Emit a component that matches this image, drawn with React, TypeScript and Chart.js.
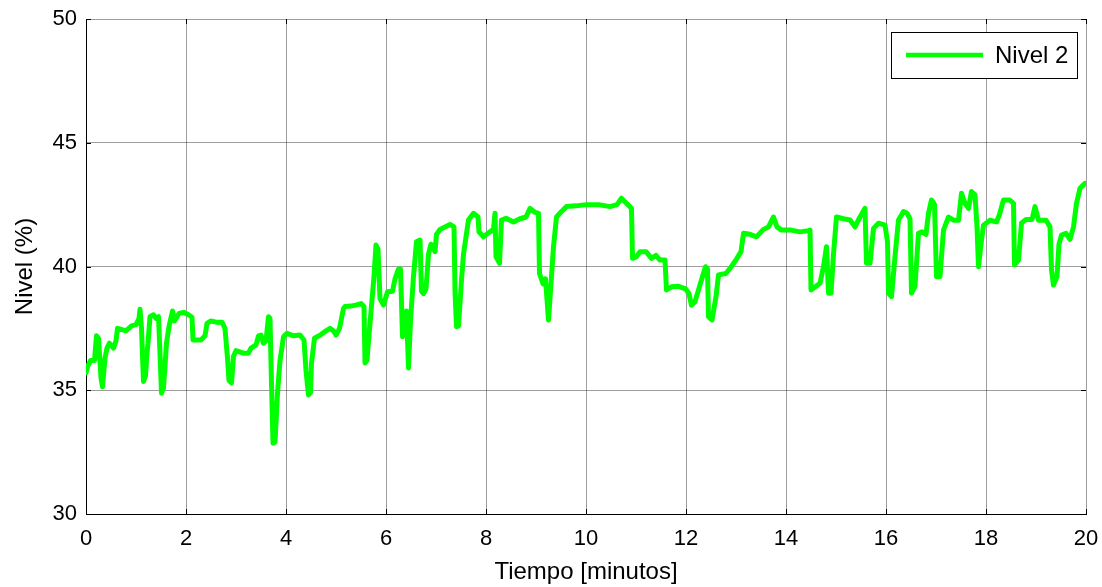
import React, { useEffect, useRef } from 'react';
import { Chart, registerables } from 'chart.js';

Chart.register(...registerables);

const seriesLabel = 'Nivel 2';
const xTitle = 'Tiempo [minutos]';
const yTitle = 'Nivel (%)';
const xTicks = [0, 2, 4, 6, 8, 10, 12, 14, 16, 18, 20];
const yTicks = [30, 35, 40, 45, 50];

const times = [
  0.00, 0.03, 0.09, 0.17, 0.21, 0.25, 0.30, 0.33, 0.38, 0.42, 0.47, 0.55, 0.60, 0.63, 0.72, 0.80, 0.91, 1.00, 1.06, 1.08,
  1.11, 1.15, 1.19, 1.22, 1.24, 1.28, 1.35, 1.40, 1.45, 1.48, 1.51, 1.55, 1.61, 1.66, 1.73, 1.77, 1.86, 1.95, 2.05, 2.12,
  2.14, 2.30, 2.38, 2.42, 2.50, 2.60, 2.72, 2.78, 2.83, 2.86, 2.91, 2.95, 3.00, 3.15, 3.25, 3.30, 3.40, 3.45, 3.50, 3.55,
  3.60, 3.65, 3.68, 3.71, 3.74, 3.78, 3.83, 3.88, 3.95, 4.02, 4.15, 4.28, 4.36, 4.40, 4.45, 4.49, 4.51, 4.57, 4.70, 4.80,
  4.88, 4.95, 5.00, 5.07, 5.15, 5.18, 5.30, 5.41, 5.50, 5.56, 5.58, 5.62, 5.65, 5.72, 5.76, 5.80, 5.84, 5.88, 5.95, 6.03,
  6.13, 6.18, 6.25, 6.29, 6.33, 6.37, 6.41, 6.45, 6.49, 6.55, 6.61, 6.68, 6.71, 6.75, 6.80, 6.85, 6.90, 6.98, 7.01, 7.08,
  7.18, 7.28, 7.36, 7.38, 7.41, 7.45, 7.51, 7.55, 7.65, 7.75, 7.84, 7.86, 7.95, 8.08, 8.15, 8.18, 8.20, 8.27, 8.31, 8.40,
  8.55, 8.68, 8.80, 8.88, 8.97, 9.05, 9.07, 9.14, 9.19, 9.25, 9.30, 9.35, 9.41, 9.50, 9.61, 9.80, 10.01, 10.25, 10.48, 10.62,
  10.71, 10.81, 10.91, 10.93, 11.01, 11.08, 11.20, 11.31, 11.40, 11.48, 11.58, 11.61, 11.71, 11.85, 11.99, 12.06, 12.11, 12.18, 12.29, 12.39,
  12.43, 12.45, 12.52, 12.60, 12.65, 12.80, 12.93, 13.02, 13.10, 13.15, 13.28, 13.41, 13.55, 13.65, 13.75, 13.82, 13.91, 14.10, 14.28, 14.45,
  14.48, 14.50, 14.60, 14.68, 14.75, 14.81, 14.85, 14.90, 14.95, 15.01, 15.15, 15.28, 15.38, 15.48, 15.58, 15.61, 15.68, 15.75, 15.85, 15.98,
  16.03, 16.05, 16.11, 16.18, 16.25, 16.35, 16.42, 16.48, 16.51, 16.58, 16.65, 16.72, 16.80, 16.85, 16.91, 16.97, 17.01, 17.08, 17.15, 17.25,
  17.35, 17.45, 17.51, 17.58, 17.65, 17.71, 17.78, 17.82, 17.85, 17.90, 17.95, 18.08, 18.21, 18.27, 18.35, 18.47, 18.55, 18.57, 18.65, 18.71,
  18.80, 18.92, 18.98, 19.05, 19.20, 19.28, 19.31, 19.35, 19.42, 19.46, 19.51, 19.60, 19.68, 19.75, 19.81, 19.88, 19.98,
];

const levels = [
  35.70, 35.95, 36.20, 36.20, 37.20, 37.10, 35.50, 35.14, 36.30, 36.70, 36.90, 36.70, 37.00, 37.50, 37.45, 37.40, 37.60, 37.65, 37.90, 38.27,
  37.50, 35.35, 35.60, 36.50, 36.90, 37.97, 38.05, 37.90, 37.97, 36.50, 34.88, 35.10, 36.90, 37.57, 38.20, 37.80, 38.10, 38.15, 38.05, 37.95,
  37.03, 37.03, 37.20, 37.70, 37.80, 37.75, 37.75, 37.50, 36.30, 35.40, 35.30, 36.36, 36.60, 36.50, 36.50, 36.70, 36.83, 37.20, 37.23, 36.90,
  37.00, 37.97, 37.90, 35.28, 32.86, 32.90, 34.88, 36.20, 37.16, 37.30, 37.20, 37.23, 37.03, 35.80, 34.81, 34.90, 36.09, 37.10, 37.25, 37.40,
  37.50, 37.40, 37.23, 37.50, 38.30, 38.38, 38.40, 38.45, 38.50, 38.38, 36.10, 36.20, 37.00, 38.65, 39.60, 40.87, 40.70, 38.70, 38.44, 38.98,
  39.00, 39.50, 39.90, 39.90, 37.16, 37.30, 38.20, 35.90, 37.80, 39.60, 41.00, 41.07, 39.00, 38.90, 39.10, 40.50, 40.90, 40.60, 41.30, 41.50,
  41.60, 41.70, 41.60, 39.00, 37.57, 37.60, 39.45, 40.50, 41.88, 42.15, 42.00, 41.40, 41.20, 41.40, 41.50, 42.15, 40.40, 40.13, 41.88, 41.95,
  41.80, 41.93, 42.00, 42.35, 42.20, 42.15, 39.72, 39.30, 39.50, 37.84, 39.30, 40.80, 42.00, 42.20, 42.42, 42.45, 42.50, 42.50, 42.42, 42.50,
  42.76, 42.55, 42.35, 40.33, 40.40, 40.60, 40.60, 40.33, 40.45, 40.26, 40.26, 39.05, 39.18, 39.20, 39.10, 38.90, 38.44, 38.58, 39.32, 39.99,
  39.90, 37.97, 37.84, 38.78, 39.66, 39.72, 40.06, 40.33, 40.60, 41.34, 41.30, 41.20, 41.50, 41.60, 42.00, 41.60, 41.47, 41.47, 41.40, 41.45,
  41.47, 39.05, 39.20, 39.32, 40.00, 40.80, 38.92, 38.92, 40.50, 42.00, 41.93, 41.88, 41.60, 42.00, 42.35, 40.13, 40.13, 41.54, 41.75, 41.67,
  41.00, 38.92, 38.78, 40.40, 41.88, 42.22, 42.15, 41.93, 38.92, 39.20, 41.34, 41.40, 41.30, 42.15, 42.69, 42.50, 39.59, 39.60, 41.47, 42.00,
  41.87, 41.87, 42.96, 42.55, 42.35, 43.03, 42.90, 41.60, 39.99, 40.90, 41.67, 41.87, 41.80, 42.10, 42.69, 42.69, 42.55, 40.06, 40.26, 41.75,
  41.90, 41.90, 42.42, 41.87, 41.87, 41.60, 39.86, 39.25, 39.60, 40.90, 41.27, 41.34, 41.10, 41.60, 42.55, 43.16, 43.36,
];

const LINE_COLOR = 'rgb(0,255,0)';
const FONT_FAMILY = '"Liberation Sans", Arial, Helvetica, sans-serif';
const TICK_SIZE = 22;
const TITLE_SIZE = 24;

export default function App() {
  const canvasRef = useRef<HTMLCanvasElement | null>(null);

  useEffect(() => {
    document.body.style.margin = '0';
    const canvas = canvasRef.current;
    if (!canvas) return;

    const inwardTicks = {
      id: 'inwardTicks',
      afterDatasetsDraw(chart: any) {
        const { ctx, chartArea, scales } = chart;
        const { left, right, top, bottom } = chartArea;
        const L = 5;
        ctx.save();
        ctx.strokeStyle = '#000';
        ctx.lineWidth = 1;
        ctx.beginPath();
        for (const v of yTicks) {
          const py = Math.round(scales.y.getPixelForValue(v)) + 0.5;
          ctx.moveTo(left, py); ctx.lineTo(left + L, py);
          ctx.moveTo(right, py); ctx.lineTo(right - L, py);
        }
        for (const v of xTicks) {
          const px = Math.round(scales.x.getPixelForValue(v)) + 0.5;
          ctx.moveTo(px, bottom); ctx.lineTo(px, bottom - L);
          ctx.moveTo(px, top); ctx.lineTo(px, top + L);
        }
        ctx.stroke();
        ctx.restore();
      },
    };

    const legendBox = {
      id: 'legendBox',
      afterDraw(chart: any) {
        const { ctx, chartArea } = chart;
        const x0 = chartArea.right - 195;
        const x1 = chartArea.right - 9;
        const y0 = chartArea.top + 13;
        const y1 = chartArea.top + 59;
        ctx.save();
        ctx.fillStyle = '#fff';
        ctx.fillRect(x0, y0, x1 - x0, y1 - y0);
        ctx.strokeStyle = '#000';
        ctx.lineWidth = 1;
        ctx.strokeRect(Math.round(x0) + 0.5, Math.round(y0) + 0.5, x1 - x0, y1 - y0);
        const ym = (y0 + y1) / 2;
        ctx.strokeStyle = LINE_COLOR;
        ctx.lineWidth = 4.5;
        ctx.beginPath();
        ctx.moveTo(x0 + 15, ym);
        ctx.lineTo(x0 + 92, ym);
        ctx.stroke();
        ctx.fillStyle = '#000';
        ctx.font = `${TITLE_SIZE}px ${FONT_FAMILY}`;
        ctx.textBaseline = 'middle';
        ctx.textAlign = 'left';
        ctx.fillText(seriesLabel, x0 + 104, ym + 1);
        ctx.restore();
      },
    };

    const gridColor = 'rgba(0,0,0,0.38)';

    const chart = new Chart(canvas, {
      type: 'line',
      data: {
        datasets: [
          {
            label: seriesLabel,
            data: times.map((t, i) => ({ x: t, y: levels[i] })),
            borderColor: LINE_COLOR,
            backgroundColor: LINE_COLOR,
            borderWidth: 5,
            pointRadius: 0,
            tension: 0,
            fill: false,
            borderJoinStyle: 'round',
            borderCapStyle: 'round',
          } as any,
        ],
      },
      options: {
        animation: false,
        responsive: false,
        devicePixelRatio: 1,
        layout: { padding: { top: 19, right: 16, left: 0, bottom: 0 } },
        plugins: {
          legend: { display: false },
          tooltip: { enabled: false },
        },
        scales: {
          x: {
            type: 'linear',
            min: 0,
            max: 20,
            afterBuildTicks: (scale: any) => {
              scale.ticks = xTicks.map((v) => ({ value: v }));
            },
            afterFit: (scale: any) => {
              scale.height = 73;
              scale.paddingLeft = 0;
              scale.paddingRight = 0;
            },
            grid: { color: gridColor, lineWidth: 1, drawTicks: false },
            border: { display: true, color: '#000', width: 1 },
            ticks: {
              color: '#000',
              padding: 12,
              maxRotation: 0,
              autoSkip: false,
              font: { family: FONT_FAMILY, size: TICK_SIZE },
            },
            title: {
              display: true,
              text: xTitle,
              color: '#000',
              font: { family: FONT_FAMILY, size: TITLE_SIZE },
              padding: { top: 0, bottom: 0 },
            },
          },
          y: {
            type: 'linear',
            min: 30,
            max: 50,
            afterBuildTicks: (scale: any) => {
              scale.ticks = yTicks.map((v) => ({ value: v }));
            },
            afterFit: (scale: any) => {
              scale.width = 86;
              scale.paddingTop = 0;
              scale.paddingBottom = 0;
            },
            grid: { color: gridColor, lineWidth: 1, drawTicks: false },
            border: { display: true, color: '#000', width: 1 },
            ticks: {
              color: '#000',
              padding: 9,
              autoSkip: false,
              font: { family: FONT_FAMILY, size: TICK_SIZE },
            },
            title: {
              display: true,
              text: yTitle,
              color: '#000',
              font: { family: FONT_FAMILY, size: TITLE_SIZE },
              padding: { top: 11, bottom: 0 },
            },
          },
        },
      } as any,
      plugins: [inwardTicks, legendBox],
    });

    return () => {
      chart.destroy();
    };
  }, []);

  return (
    <canvas
      ref={canvasRef}
      width={1102}
      height={587}
      style={{ display: 'block', width: '1102px', height: '587px' }}
    />
  );
}
